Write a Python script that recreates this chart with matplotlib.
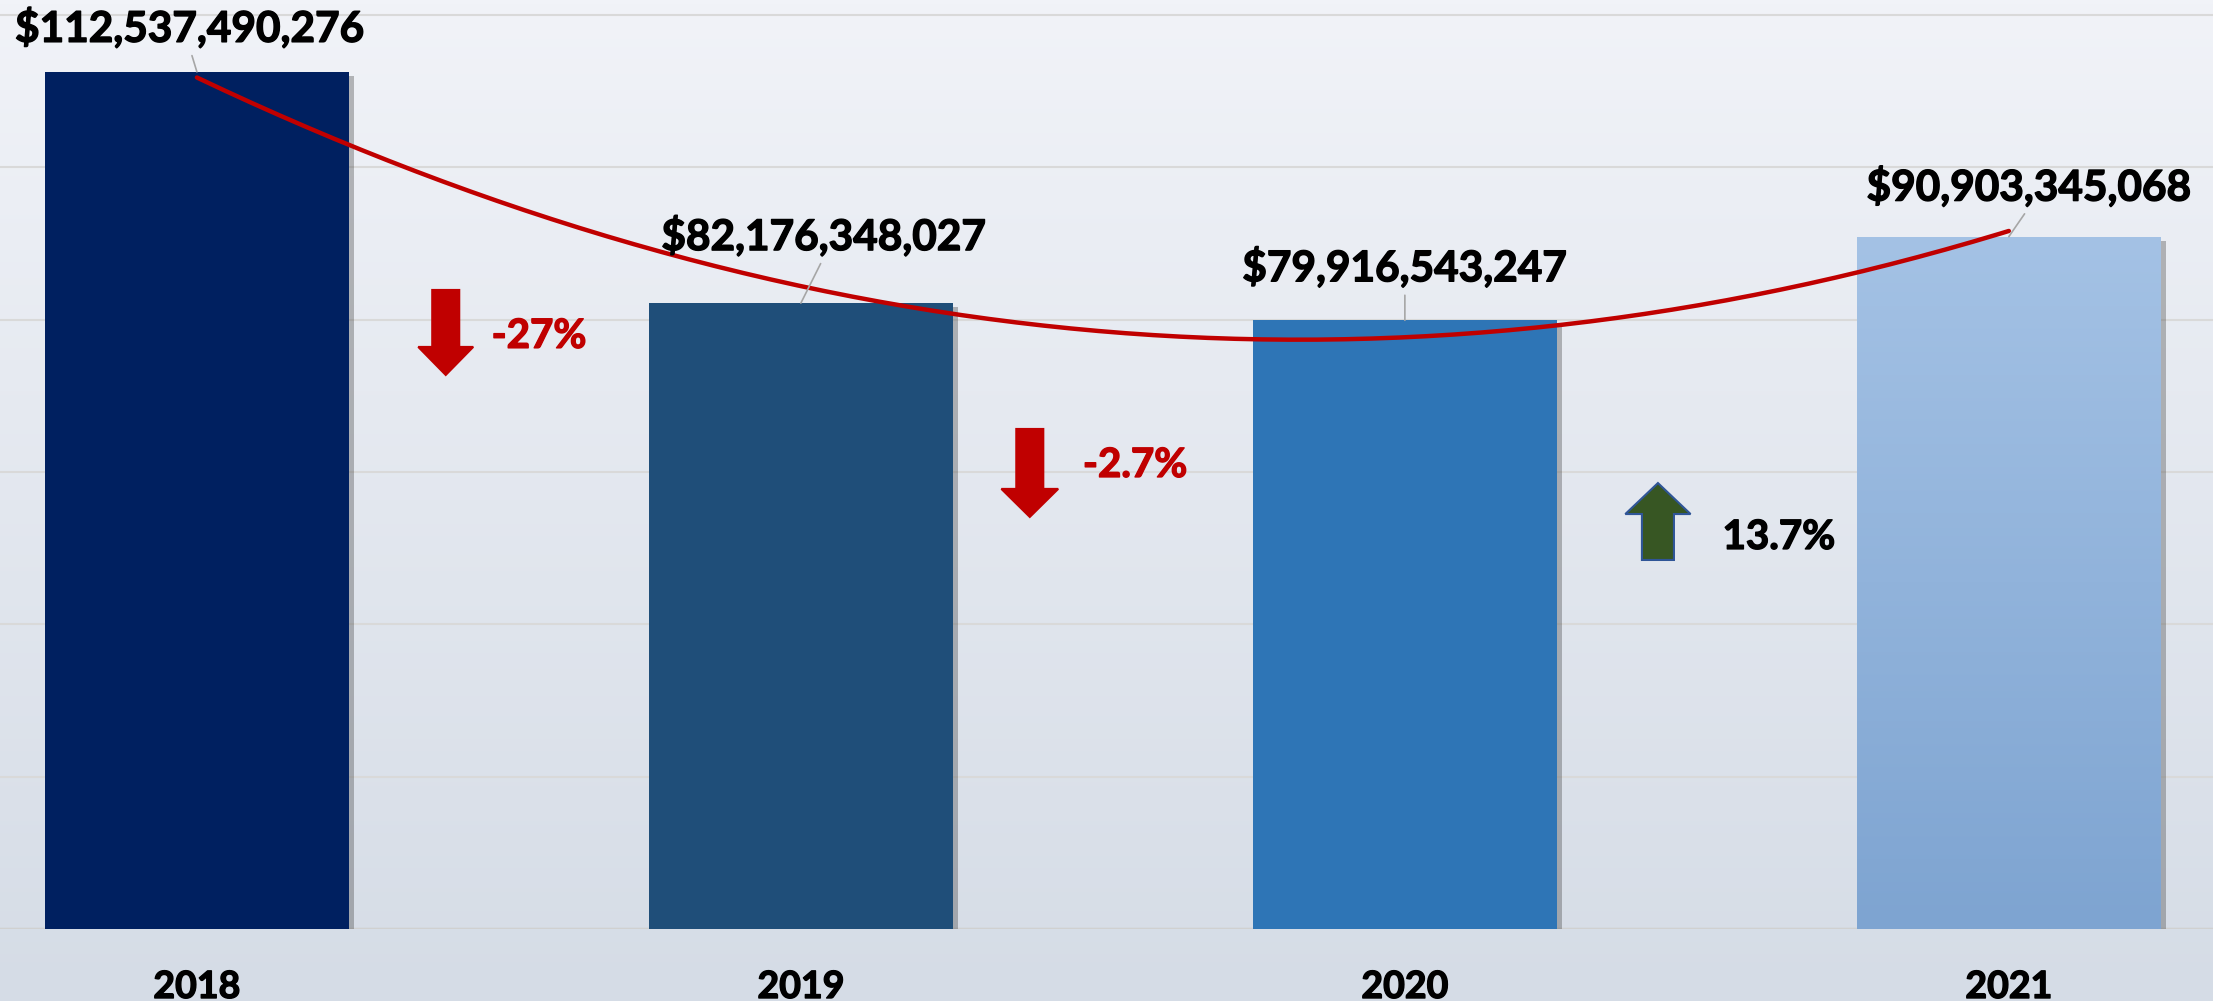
import numpy as np
import matplotlib
matplotlib.use("Agg")
import matplotlib.pyplot as plt
from matplotlib.patches import FancyArrow
import matplotlib.patheffects as pe

# datos
years = ["2018", "2019", "2020", "2021"]
valores = [112537490276, 82176348027, 79916543247, 90903345068]
cores = ["#002060", "#1f4e79", "#2e75b6", "#a4c2e5"]
variacoes = ["-27%", "-2.7%", "13.7%"]
cores_var = ["#c00000", "#c00000", "#000000"]

# deslocamento (pixels) dos rótulos de valor em relação ao topo da barra
rot_dx = [-7, 23, 0, 20]
rot_dy = [30, 53, 39, 36]

# setas entre as barras: x, y inicial, dy, largura, largura ponta, comp. ponta
setas_x = [0.412, 1.379, 2.419]
setas_y = [83.9, 65.65, 48.45]
setas_dy = [-11.16, -11.55, 10.1]
setas_w = [0.0447, 0.0447, 0.053]
setas_hw = [0.091, 0.094, 0.108]
setas_hl = [3.68, 3.68, 4.07]
setas_face = ["#c00000", "#c00000", "#375623"]
setas_edge = ["#c00000", "#c00000", "#2f5597"]
texto_x = [0.488, 1.467, 2.526]
texto_y = [76.3, 59.35, 49.9]

plt.rcParams['font.family'] = ['Lato', 'DejaVu Sans']
peso = 'bold'
# contorno fino para engrossar o traço do texto
engrossa = [pe.withStroke(linewidth=1.0, foreground='black')]

fig = plt.figure(figsize=(22.13, 10.01), dpi=100)

# fundo em degradê
bg = fig.add_axes([0, 0, 1, 1])
topo = np.array([241, 243, 248]) / 255
base = np.array([213, 220, 230]) / 255
t = np.linspace(0, 1, 256)[:, None]
grad = topo[None, :] * (1 - t) + base[None, :] * t
bg.imshow(grad[:, None, :], aspect='auto', extent=[0, 1, 0, 1])
bg.axis('off')

ax = fig.add_axes([0, 72 / 1001, 1, 929 / 1001])
ax.set_facecolor('none')

x = np.arange(len(years))
vals = np.array(valores) / 1e9
barras = ax.bar(x, vals, width=0.503, color=cores, zorder=3,
                path_effects=[pe.withSimplePatchShadow(offset=(4, -3), shadow_rgbFace='#404040', alpha=0.35),
                              pe.Normal()])

# degradê na última barra
b = barras[-1]
g_topo = np.array([164, 194, 229]) / 255
g_base = np.array([126, 164, 209]) / 255
gg = g_topo[None, :] * (1 - t) + g_base[None, :] * t
im = ax.imshow(gg[:, None, :], aspect='auto', zorder=3.5,
               extent=[b.get_x(), b.get_x() + b.get_width(), 0, b.get_height()])
im.set_clip_path(b)

# linha de tendência polinomial (ordem 2)
coef = np.polyfit(x, vals, 2)
xs = np.linspace(0, 3, 200)
ax.plot(xs, np.polyval(coef, xs), color='#c00000', lw=3.2, zorder=5, solid_capstyle='round')

# rótulos de valor
for i, v in enumerate(valores):
    ax.annotate(f"${v:,}", xy=(x[i], vals[i]), xytext=(rot_dx[i], rot_dy[i]),
                textcoords='offset pixels', ha='center', va='baseline',
                fontsize=30.5, fontweight=peso, color='black', zorder=6,
                annotation_clip=False, path_effects=engrossa,
                arrowprops=dict(arrowstyle='-', color='#a6a6a6', lw=1.2,
                                shrinkA=3, shrinkB=0, relpos=(0.5, 0)))

# rótulos das categorias
for i, ano in enumerate(years):
    ax.annotate(ano, xy=(x[i], 0), xytext=(0, -69), textcoords='offset pixels',
                ha='center', va='baseline', fontsize=27, fontweight=peso,
                annotation_clip=False, path_effects=engrossa)

# setas e variações
for i in range(len(variacoes)):
    ax.add_patch(FancyArrow(setas_x[i], setas_y[i], 0, setas_dy[i], width=setas_w[i],
                            head_width=setas_hw[i], head_length=setas_hl[i],
                            length_includes_head=True, facecolor=setas_face[i],
                            edgecolor=setas_edge[i], lw=1.5, zorder=6))
    ax.text(texto_x[i], texto_y[i], variacoes[i], ha='left', va='baseline',
            fontsize=29, fontweight=peso, color=cores_var[i], zorder=6,
            path_effects=[pe.withStroke(linewidth=1.0, foreground=cores_var[i])])

ax.set_xlim(-0.326, 3.338)
ax.set_ylim(0, 121.97)
ax.set_yticks(np.arange(0, 121, 20))
ax.grid(axis='y', color='#d9d9d9', lw=1.5, zorder=0)
ax.axhline(0, color='#d0d0d0', lw=2.5, zorder=2)
ax.set_xticks([])
ax.tick_params(left=False, labelleft=False)
for s in ax.spines.values():
    s.set_visible(False)

fig.savefig("out.png", dpi=100)
